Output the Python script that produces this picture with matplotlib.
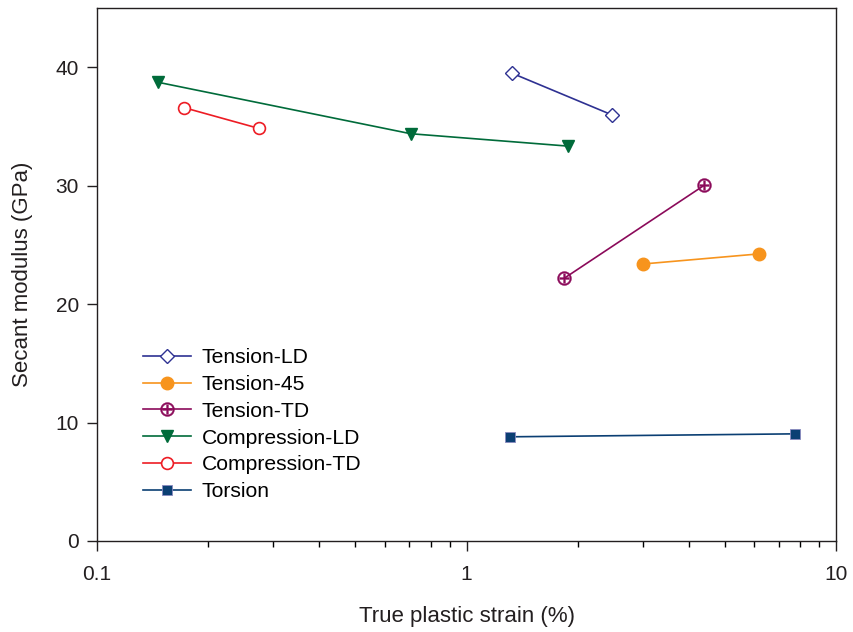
import numpy as np
import matplotlib.pyplot as plt

plt.rcParams['font.family'] = ['Liberation Sans', 'DejaVu Sans']

# secant modulus (GPa) vs true plastic strain (%)
tension_ld_x = [1.33, 2.47]
tension_ld_y = [39.5, 36.0]
tension_45_x = [3.01, 6.19]
tension_45_y = [23.4, 24.25]
tension_td_x = [1.84, 4.40]
tension_td_y = [22.2, 30.05]
compression_ld_x = [0.146, 0.706, 1.887]
compression_ld_y = [38.75, 34.4, 33.35]
compression_td_x = [0.172, 0.274]
compression_td_y = [36.6, 34.85]
torsion_x = [1.31, 7.75]
torsion_y = [8.8, 9.05]

fig = plt.figure(figsize=(8.54, 6.32), dpi=100)
ax = fig.add_axes([0.1136, 0.144, 0.8654, 0.843])

ax.plot(tension_ld_x, tension_ld_y, color='#2e3192', lw=1.2, marker='D', ms=7,
        mfc='white', mec='#2e3192', mew=1.0, label='Tension-LD')
ax.plot(tension_45_x, tension_45_y, color='#f7941d', lw=1.2, marker='o', ms=9,
        mfc='#f7941d', mec='#f7941d', label='Tension-45')
ax.plot(tension_td_x, tension_td_y, color='#8b0a5a', lw=1.2, marker='$\\oplus$', ms=10,
        mfc='#8b0a5a', mec='#8b0a5a', mew=0.3, label='Tension-TD')
ax.plot(compression_ld_x, compression_ld_y, color='#006b3a', lw=1.2, marker='v', ms=8,
        mfc='#006b3a', mec='#006b3a', label='Compression-LD')
ax.plot(compression_td_x, compression_td_y, color='#ed1c24', lw=1.2, marker='o', ms=8.5,
        mfc='white', mec='#ed1c24', mew=1.2, label='Compression-TD')
ax.plot(torsion_x, torsion_y, color='#0b3f73', lw=1.2, marker='s', ms=6.5,
        mfc='#0b3f73', mec='#8a8ac0', mew=0.6, label='Torsion')

ax.set_xscale('log')
ax.set_xlim(0.1, 10)
ax.set_ylim(0, 45)
ax.set_xticks([0.1, 1, 10])
ax.set_xticklabels(['0.1', '1', '10'])
ax.set_yticks([0, 10, 20, 30, 40])
ax.tick_params(axis='both', which='major', direction='out', length=7, width=1,
               labelsize=15, pad=6, colors='#231f20')
ax.tick_params(axis='x', which='minor', direction='out', length=4, width=1)
ax.tick_params(axis='x', which='major', pad=10)
for s in ax.spines.values():
    s.set_color('#231f20')
    s.set_linewidth(1)

ax.set_xlabel('True plastic strain (%)', fontsize=16, labelpad=16, color='#231f20')
ax.set_ylabel('Secant modulus (GPa)', fontsize=16, labelpad=16, color='#231f20')

ax.legend(loc='upper left', bbox_to_anchor=(0.062, 0.362), frameon=False, fontsize=15.2,
          handlelength=2.3, labelspacing=0.37, handletextpad=0.5, borderaxespad=0,
          borderpad=0)

fig.savefig('out.png', dpi=100)
